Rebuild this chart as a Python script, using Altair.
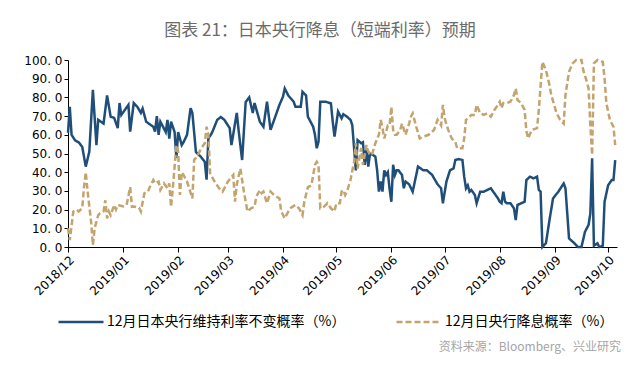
import altair as alt
import pandas as pd

# ---- data (day offsets counted from 2018-12-01) ----
blue_days = [0, 1, 2, 4, 6, 8, 10, 12, 14, 16, 17, 20, 22, 24, 26, 28, 29, 30, 34, 35,
             37, 39, 41, 42, 44, 48, 49, 50, 51, 52, 55, 56, 57, 58, 60, 61, 62, 64, 65, 67,
             69, 70, 72, 75, 77, 78, 79, 81, 84, 86, 88, 91, 92, 95, 96, 98, 100, 102, 104, 105,
             108, 110, 112, 114, 117, 119, 121, 122, 124, 127, 128, 131, 132, 134, 135, 138, 139, 140, 141, 142,
             145, 148, 149, 150, 152, 154, 155, 157, 159, 160, 162, 163, 165, 166, 167, 168, 169, 170, 172, 173,
             174, 175, 176, 177, 178, 179, 180, 181, 182, 183, 184, 185, 186, 188, 189, 190, 192, 194, 196, 197,
             200, 202, 205, 208, 210, 211, 213, 215, 217, 218, 220, 222, 223, 224, 225, 226, 227, 229, 230, 232,
             234, 236, 238, 240, 242, 243, 244, 245, 246, 247, 249, 251, 252, 253, 257, 258, 260, 262, 264, 265,
             266, 267, 269, 271, 273, 276, 279, 280, 282, 285, 287, 289, 291, 293, 294, 295, 296, 298, 299, 301,
             302, 304, 306, 307, 308]
blue_vals = [61, 75, 60, 57, 56, 53.6, 43, 51, 84, 54.5, 68, 66, 81, 69.7, 69, 63.6, 77, 70.6, 76, 61.7,
             77, 75, 71.7, 74, 67, 64.3, 61.7, 70, 60, 67, 61.5, 68, 58, 67, 61.5, 47.6, 61.5, 54.5, 56, 60,
             74.3, 71.7, 50.8, 48, 45.5, 36, 58, 61, 68, 69.5, 68, 63.6, 54.5, 71.7, 62.6, 46.5, 77.5, 80, 71.7, 77,
             67, 64.3, 77.7, 62.6, 70.6, 76, 80.4, 84.8, 81, 77.7, 75, 75, 83, 81, 69.7, 64.3, 60, 52.8, 56.3, 77.7,
             77.7, 76.8, 67, 59, 72.4, 68.8, 71, 69.7, 68, 65.2, 41, 57.2, 55.5, 56, 43.9, 52.8, 43, 50, 49, 48.3,
             41, 29.6, 35, 29.6, 41, 38.5, 40, 31, 24.2, 44, 38.5, 41, 41, 38.5, 31.4, 35, 33.5, 29.6, 38.5, 43,
             41, 41, 38.5, 33.5, 31.4, 23.4, 35, 41, 42, 46.5, 47, 46.5, 37.6, 31.4, 33, 29.6, 30.5, 27.8, 23.4, 29.6,
             29.6, 30.5, 31.4, 28.7, 26, 24.2, 23.4, 29.6, 24.2, 23.4, 23.4, 20.7, 14.4, 22.5, 24.2, 35.8, 37.6, 36.7, 37.6, 30.5,
             29.6, 0, 2, 14.4, 26, 29.6, 34, 31.4, 4.6, 2, 0, 0, 8.2, 11.8, 18, 47.4, 0.7, 2, 0, 0.7,
             24.2, 33, 35.8, 35.8, 46.5]

tan_days = [0, 1, 3, 5, 6, 8, 9, 10, 11, 13, 14, 15, 17, 18, 20, 21, 22, 23, 24, 26,
            27, 28, 31, 33, 35, 36, 37, 40, 41, 43, 45, 46, 48, 49, 51, 52, 54, 56, 57, 58,
            59, 61, 62, 63, 64, 65, 67, 70, 71, 73, 75, 77, 78, 79, 80, 82, 85, 87, 90, 93,
            94, 95, 97, 99, 101, 103, 105, 106, 108, 109, 110, 112, 114, 116, 119, 120, 122, 124, 125, 128,
            130, 132, 133, 135, 137, 139, 140, 141, 142, 144, 146, 148, 150, 151, 153, 154, 155, 156, 157, 159,
            161, 162, 163, 165, 166, 168, 169, 171, 173, 175, 176, 177, 178, 180, 181, 182, 183, 184, 185, 187,
            188, 190, 192, 193, 194, 196, 198, 200, 203, 206, 208, 210, 211, 212, 214, 216, 218, 219, 222, 223,
            224, 226, 227, 229, 230, 232, 234, 236, 238, 240, 242, 243, 244, 245, 247, 249, 251, 252, 253, 255,
            257, 258, 259, 261, 264, 265, 267, 269, 271, 272, 275, 277, 279, 280, 282, 284, 286, 289, 290, 292,
            293, 294, 295, 296, 298, 301, 302, 303, 305, 307, 308]
tan_vals = [10, 3.7, 19, 20, 19, 20.7, 32, 40, 30, 13.5, 1, 10, 17, 18, 19, 25, 15.3, 19, 17, 22.5,
            20, 22.5, 21.7, 22.5, 32, 21.5, 21.7, 21, 19, 28.7, 29.6, 32, 35.8, 34, 35, 30.5, 34, 31.4, 34, 21.5,
            31.4, 54.5, 51, 27.8, 40, 38.5, 35, 26, 46.5, 49, 52.8, 55.5, 64.3, 60, 39.4, 35.8, 31.4, 29.6, 35, 38.5,
            24.2, 33.5, 42, 29.6, 19, 20.7, 21.5, 27, 30.5, 28.7, 29.6, 23.4, 29.6, 27.8, 26, 19, 15.3, 19, 20.7, 22.5,
            20.7, 17, 24.2, 32, 33, 43.9, 45.6, 43.9, 20.7, 21.5, 23.4, 20.7, 19, 23.4, 23.4, 29.6, 30.5, 27.8, 29.6, 35.8,
            45.6, 55.5, 41.9, 53, 43.9, 54.5, 51, 49, 55.5, 60, 68, 63.6, 58, 65, 65, 75, 62.6, 60, 60, 62.6,
            66, 60, 66, 69.7, 71.5, 64.3, 58, 59, 60, 62.6, 68, 65, 76, 68.8, 62.6, 58, 56.3, 52.8, 52.8, 58,
            68, 69.7, 70.6, 70.6, 76, 71.5, 70.6, 71.5, 69.7, 73.3, 76, 77.7, 74.2, 77, 77, 77.7, 81.3, 84.8, 78.6, 77,
            73.3, 62, 58, 62.6, 63.6, 73.3, 99, 94.6, 86.6, 81.3, 71.5, 68, 66, 81.3, 93.7, 98.2, 100, 100, 94.6, 88.4,
            84.8, 65, 49.2, 98.2, 100, 99, 90.2, 77, 68, 64.3, 54.5]

series_names = ["12月日本央行维持利率不变概率（%）", "12月日央行降息概率（%）"]
series_colors = ["#1F4E79", "#C4A46E"]
month_ticks = [(2018, 12), (2019, 1), (2019, 2), (2019, 3), (2019, 4), (2019, 5),
               (2019, 6), (2019, 7), (2019, 8), (2019, 9), (2019, 10)]
y_ticks = [0, 10, 20, 30, 40, 50, 60, 70, 80, 90, 100]
title_text = "图表 21：日本央行降息（短端利率）预期"
source_text = "资料来源：Bloomberg、兴业研究"

start = pd.Timestamp("2018-12-01")
df = pd.concat([
    pd.DataFrame({"date": start + pd.to_timedelta(blue_days, unit="D"),
                  "value": blue_vals, "series": series_names[0], "order": 0}),
    pd.DataFrame({"date": start + pd.to_timedelta(tan_days, unit="D"),
                  "value": tan_vals, "series": series_names[1], "order": 1}),
], ignore_index=True)

legend_cfg = dict(
    title=None, orient="none", legendX=-11, legendY=238, direction="horizontal",
    symbolType="stroke", symbolSize=2025, symbolStrokeWidth=2.5,
    labelFontSize=14, labelFont="Noto Sans CJK SC", labelColor="#000000",
    columnPadding=45, labelOffset=2, labelLimit=400,
)

lines = alt.Chart(df).mark_line(strokeWidth=2.5).encode(
    x=alt.X("date:T",
            scale=alt.Scale(domain=[alt.DateTime(year=2018, month=12, date=1),
                                    alt.DateTime(year=2019, month=10, date=6)], nice=False),
            axis=alt.Axis(values=[alt.DateTime(year=y, month=m, date=1) for y, m in month_ticks],
                          format="%Y/%m", labelAngle=-45, labelAlign="right", labelBaseline="top",
                          tickSize=5, labelPadding=2, labelFont="DejaVu Sans", labelFontSize=12,
                          labelColor="#000000", domainColor="#000000", tickColor="#000000",
                          grid=False, title=None, labelOverlap=False)),
    y=alt.Y("value:Q", scale=alt.Scale(domain=[0, 100], nice=False),
            axis=alt.Axis(values=y_ticks,
                          labelExpr="replace(format(datum.value, '.1f'), '.', '. ')",
                          tickSize=4, labelPadding=2, labelFont="DejaVu Sans", labelFontSize=12,
                          labelColor="#000000", domainColor="#000000", tickColor="#000000",
                          grid=False, title=None)),
    color=alt.Color("series:N", scale=alt.Scale(domain=series_names, range=series_colors),
                    legend=alt.Legend(**legend_cfg)),
    strokeDash=alt.StrokeDash("series:N", scale=alt.Scale(domain=series_names, range=[[1, 0], [6, 3]]),
                              legend=alt.Legend(**legend_cfg)),
    order=alt.Order("order:Q"),
)

title = alt.Chart(pd.DataFrame({"t": [title_text]})).mark_text(
    align="center", baseline="middle", fontSize=17, color="#6B6B6B", font="Noto Sans CJK SC"
).encode(text="t:N", x=alt.value(252), y=alt.value(-29))

src = alt.Chart(pd.DataFrame({"t": [source_text]})).mark_text(
    align="right", baseline="middle", fontSize=12, color="#A6A6A6", font="Noto Sans CJK SC"
).encode(text="t:N", x=alt.value(553), y=alt.value(287))

chart = alt.layer(lines, title, src).properties(
    width=549, height=187,
    padding={"left": 60, "top": 52, "right": 15, "bottom": 110},
    autosize=alt.AutoSizeParams(type="none"),
).configure_view(stroke=None)

chart.save("out.html", embed_options={"renderer": "svg", "actions": False})
